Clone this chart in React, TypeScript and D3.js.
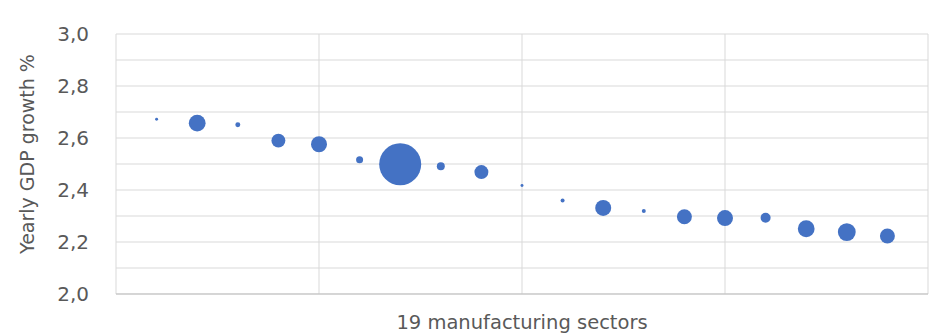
import React from "react";
import * as d3 from "d3";

const sectors = [1, 2, 3, 4, 5, 6, 7, 8, 9, 10, 11, 12, 13, 14, 15, 16, 17, 18, 19];
const growth = [2.672, 2.657, 2.651, 2.59, 2.576, 2.516, 2.499, 2.491, 2.469, 2.417, 2.36, 2.331, 2.319, 2.297, 2.292, 2.293, 2.251, 2.238, 2.223];
const bubbleSize = [0.5, 16, 1.4, 11, 14.5, 2.8, 100, 3.6, 11, 0.5, 0.9, 14.5, 0.9, 12.7, 14.5, 5.7, 16, 18, 12.7];
const yTicks = [2.0, 2.2, 2.4, 2.6, 2.8, 3.0];
const yGrid = [2.0, 2.1, 2.2, 2.3, 2.4, 2.5, 2.6, 2.7, 2.8, 2.9, 3.0];
const xGrid = [0, 5, 10, 15, 20];

export default function App() {
  const W = 940, H = 333;
  const left = 116, right = 928, top = 34, bottom = 294;
  const x = d3.scaleLinear().domain([0, 20]).range([left, right]);
  const y = d3.scaleLinear().domain([2.0, 3.0]).range([bottom, top]);
  const r = d3.scaleSqrt().domain([0, 100]).range([0, 21]);
  const font = "'DejaVu Sans', sans-serif";
  const fmt = (v: number) => v.toFixed(1).replace(".", ",");
  return (
    <svg width={W} height={H} style={{ position: "absolute", left: 0, top: 0, background: "#fff" }}>
      <rect x={0} y={0} width={W} height={H} fill="#fff" />
      {yGrid.map((v) => (
        <line key={"h" + v} x1={left} x2={right} y1={y(v)} y2={y(v)} stroke="#d9d9d9" strokeWidth={1} />
      ))}
      {xGrid.map((v) => (
        <line key={"v" + v} x1={x(v)} x2={x(v)} y1={top} y2={bottom} stroke="#d9d9d9" strokeWidth={1} />
      ))}
      <line x1={left} x2={right} y1={bottom} y2={bottom} stroke="#bfbfbf" strokeWidth={1} />
      {yTicks.map((v) => (
        <text key={"t" + v} x={89} y={y(v)} dy="0.36em" textAnchor="end" fontFamily={font} fontSize={20} fill="#595959">
          {fmt(v)}
        </text>
      ))}
      <text
        transform={`translate(34,${(top + bottom) / 2 - 10}) rotate(-90)`}
        textAnchor="middle"
        fontFamily={font}
        fontSize={19}
        fill="#595959"
      >
        Yearly GDP growth %
      </text>
      <text x={(left + right) / 2} y={329} textAnchor="middle" fontFamily={font} fontSize={19.5} fill="#595959">
        19 manufacturing sectors
      </text>
      {sectors.map((s, i) => (
        <circle key={"c" + s} cx={x(s)} cy={y(growth[i])} r={r(bubbleSize[i])} fill="#4472c4" />
      ))}
    </svg>
  );
}
